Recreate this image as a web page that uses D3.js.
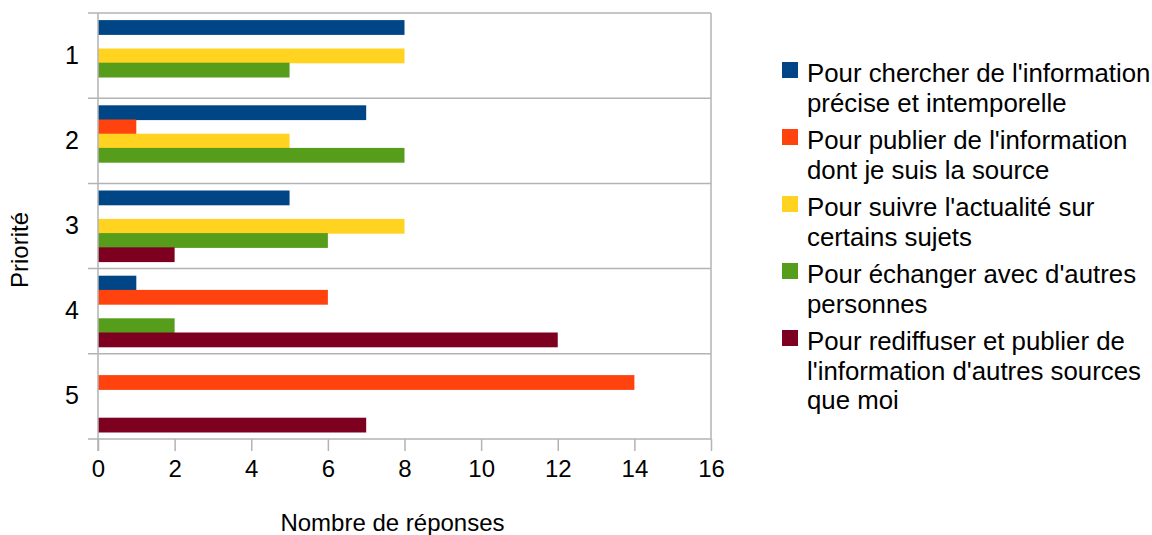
<!DOCTYPE html>
<html>
<head>
<meta charset="utf-8">
<script src="https://cdn.jsdelivr.net/npm/d3@7"></script>
<style>
  body { margin: 0; background: #fff; }
  text { font-family: "Liberation Sans", Arial, sans-serif; fill: #000; }
</style>
</head>
<body>
<svg width="1152" height="535"></svg>
<script>
// categories (priority) and series
var priorities = ["1", "2", "3", "4", "5"];
var seriesNames = [
  ["Pour chercher de l'information", "précise et intemporelle"],
  ["Pour publier de l'information", "dont je suis la source"],
  ["Pour suivre l'actualité sur", "certains sujets"],
  ["Pour échanger avec d'autres", "personnes"],
  ["Pour rediffuser et publier de", "l'information d'autres sources", "que moi"]
];
var seriesColors = ["#004586", "#ff420e", "#ffd320", "#579d1c", "#7e0021"];

// values per series, in priority order 1..5
var chercher   = [8, 7, 5, 1, 0];
var publier    = [0, 1, 0, 6, 14];
var suivre     = [8, 5, 8, 0, 0];
var echanger   = [5, 8, 6, 2, 0];
var rediffuser = [0, 0, 2, 12, 7];
var seriesValues = [chercher, publier, suivre, echanger, rediffuser];

var xTicks = [0, 2, 4, 6, 8, 10, 12, 14, 16];

var svg = d3.select("svg");
var margin = {top: 13, left: 98, right: 441, bottom: 96};
var width = 1152 - margin.left - margin.right;
var height = 535 - margin.top - margin.bottom;
var g = svg.append("g").attr("transform", "translate(" + margin.left + "," + margin.top + ")");

var x = d3.scaleLinear().domain([0, 16]).range([0, width]);
var y = d3.scaleBand().domain(priorities).range([0, height]);
var ySub = d3.scaleBand().domain(d3.range(seriesValues.length))
    .range([0, y.bandwidth()]).paddingOuter(0.5);

var gridColor = "#b3b3b3";

// horizontal grid lines at category boundaries
var bounds = priorities.map(function(p) { return y(p); }).concat([height]);
g.selectAll("line.grid").data(bounds).enter().append("line")
    .attr("class", "grid")
    .attr("x1", -10).attr("x2", width)
    .attr("y1", function(d) { return d; }).attr("y2", function(d) { return d; })
    .attr("stroke", gridColor).attr("stroke-width", 1.5);

// right border
g.append("line").attr("x1", width).attr("x2", width).attr("y1", 0).attr("y2", height)
    .attr("stroke", gridColor).attr("stroke-width", 1.5);

// bars
seriesValues.forEach(function(vals, si) {
  g.append("g").selectAll("rect").data(vals).enter().append("rect")
      .attr("x", x(0))
      .attr("y", function(d, i) { return y(priorities[i]) + ySub(si); })
      .attr("width", function(d) { return x(d) - x(0); })
      .attr("height", ySub.bandwidth() + 0.6)
      .attr("fill", seriesColors[si]);
});

// left axis line
g.append("line").attr("x1", 0).attr("x2", 0).attr("y1", 0).attr("y2", height + 12)
    .attr("stroke", gridColor).attr("stroke-width", 1.5);

// x axis
var xAxis = g.append("g").attr("transform", "translate(0," + height + ")")
    .call(d3.axisBottom(x).tickValues(xTicks).tickSize(12).tickPadding(9).tickSizeOuter(0));
xAxis.select(".domain").remove();
xAxis.selectAll(".tick line").attr("stroke", gridColor).attr("stroke-width", 1.5);
xAxis.selectAll(".tick text").attr("font-size", 24).attr("fill", "#000")
    .attr("font-family", "Liberation Sans");

// y labels
var yAxis = g.append("g")
    .call(d3.axisLeft(y).tickSize(0).tickPadding(19));
yAxis.select(".domain").remove();
yAxis.selectAll(".tick text").attr("font-size", 25).attr("fill", "#000")
    .attr("font-family", "Liberation Sans");

// axis titles
svg.append("text").attr("x", margin.left + width / 2 - 12).attr("y", 531)
    .attr("text-anchor", "middle").attr("font-size", 24).text("Nombre de réponses");
svg.append("text").attr("transform", "translate(28,250) rotate(-90)")
    .attr("text-anchor", "middle").attr("font-size", 24).text("Priorité");

// legend
var legend = svg.append("g");
var ly = 82;
var lineH = 29.5;
seriesNames.forEach(function(lines, si) {
  legend.append("rect").attr("x", 782).attr("y", ly - 20).attr("width", 16).attr("height", 16)
      .attr("fill", seriesColors[si]);
  var t = legend.append("text").attr("x", 807).attr("y", ly).attr("font-size", 25.8);
  lines.forEach(function(l, li) {
    t.append("tspan").attr("x", 807).attr("y", ly + li * lineH).text(l);
  });
  ly += lines.length * lineH + 8;
});
</script>
</body>
</html>
